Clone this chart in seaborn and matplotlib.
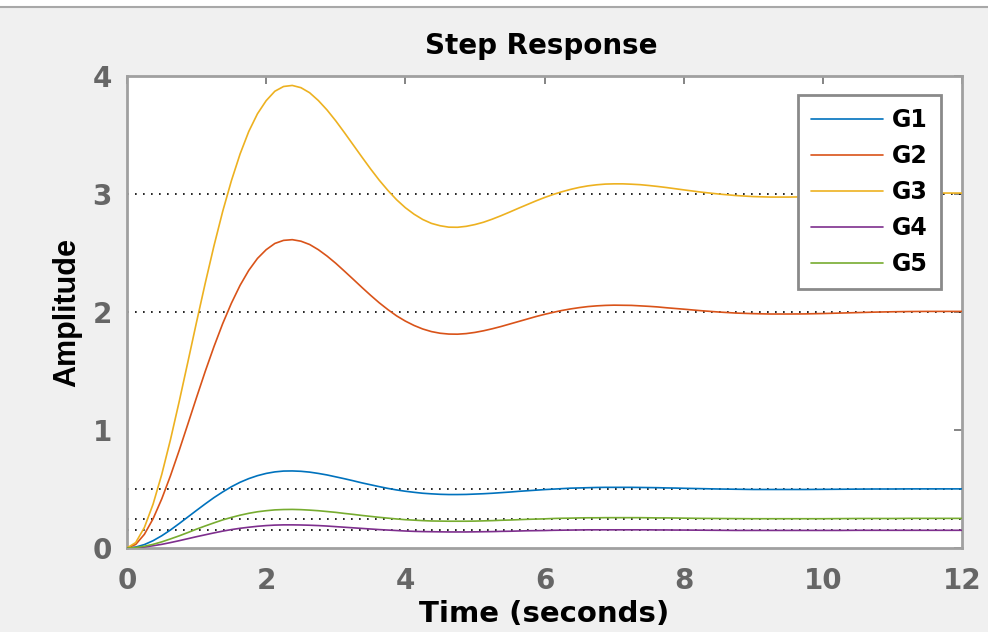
import numpy as np
import pandas as pd
import matplotlib
matplotlib.use("Agg")
import matplotlib.pyplot as plt
import seaborn as sns
from matplotlib.lines import Line2D

# ---- data ----
time = np.concatenate([np.arange(0, 8, 0.125), np.arange(8, 12.01, 0.25)])
G1 = [0, 0.008, 0.029, 0.062, 0.104, 0.153, 0.207, 0.263,
      0.319, 0.374, 0.427, 0.475, 0.519, 0.557, 0.588, 0.613,
      0.632, 0.645, 0.652, 0.653, 0.650, 0.643, 0.632, 0.619,
      0.603, 0.587, 0.570, 0.552, 0.536, 0.520, 0.505, 0.492,
      0.481, 0.472, 0.464, 0.459, 0.455, 0.453, 0.453, 0.454,
      0.457, 0.460, 0.464, 0.469, 0.474, 0.480, 0.485, 0.490,
      0.495, 0.499, 0.503, 0.507, 0.509, 0.511, 0.513, 0.514,
      0.514, 0.514, 0.514, 0.513, 0.512, 0.511, 0.509, 0.508,
      0.506, 0.503, 0.500, 0.498, 0.496, 0.496, 0.496, 0.496, 0.497,
      0.498, 0.499, 0.500, 0.500, 0.501, 0.501, 0.501, 0.501]
G2 = [0, 0.030, 0.116, 0.248, 0.417, 0.613, 0.827, 1.051,
      1.277, 1.498, 1.707, 1.901, 2.074, 2.226, 2.353, 2.454,
      2.528, 2.581, 2.607, 2.613, 2.600, 2.572, 2.528, 2.474,
      2.413, 2.346, 2.278, 2.209, 2.142, 2.078, 2.020, 1.967,
      1.923, 1.886, 1.856, 1.834, 1.820, 1.813, 1.812, 1.817,
      1.827, 1.841, 1.858, 1.877, 1.898, 1.919, 1.940, 1.961,
      1.980, 1.997, 2.013, 2.026, 2.037, 2.046, 2.052, 2.056,
      2.058, 2.057, 2.056, 2.052, 2.048, 2.043, 2.036, 2.030,
      2.024, 2.011, 2.000, 1.991, 1.986, 1.983, 1.983, 1.984, 1.987,
      1.991, 1.995, 1.999, 2.002, 2.004, 2.005, 2.005, 2.005]
G3 = [0, 0.046, 0.174, 0.372, 0.625, 0.919, 1.241, 1.577,
      1.916, 2.246, 2.561, 2.852, 3.112, 3.339, 3.530, 3.680,
      3.791, 3.871, 3.911, 3.920, 3.901, 3.858, 3.792, 3.712,
      3.620, 3.520, 3.417, 3.314, 3.213, 3.117, 3.030, 2.951,
      2.884, 2.829, 2.784, 2.751, 2.731, 2.719, 2.718, 2.726,
      2.741, 2.761, 2.787, 2.816, 2.847, 2.879, 2.910, 2.941,
      2.970, 2.996, 3.019, 3.039, 3.056, 3.069, 3.078, 3.084,
      3.086, 3.086, 3.083, 3.079, 3.072, 3.064, 3.055, 3.045,
      3.035, 3.016, 3.000, 2.987, 2.978, 2.974, 2.974, 2.976, 2.981,
      2.987, 2.993, 2.998, 3.003, 3.006, 3.008, 3.008, 3.008]
G4 = [0, 0.002, 0.009, 0.019, 0.031, 0.046, 0.062, 0.079,
      0.096, 0.112, 0.128, 0.143, 0.156, 0.167, 0.176, 0.184,
      0.190, 0.194, 0.196, 0.196, 0.195, 0.193, 0.190, 0.186,
      0.181, 0.176, 0.171, 0.166, 0.161, 0.156, 0.152, 0.148,
      0.144, 0.141, 0.139, 0.138, 0.137, 0.136, 0.136, 0.136,
      0.137, 0.138, 0.139, 0.141, 0.142, 0.144, 0.146, 0.147,
      0.148, 0.150, 0.151, 0.152, 0.153, 0.154, 0.154, 0.154,
      0.154, 0.154, 0.154, 0.154, 0.154, 0.153, 0.153, 0.152,
      0.152, 0.151, 0.150, 0.149, 0.149, 0.149, 0.149, 0.149, 0.149,
      0.149, 0.150, 0.150, 0.150, 0.150, 0.150, 0.150, 0.150]
G5 = [0, 0.004, 0.015, 0.031, 0.052, 0.077, 0.103, 0.131,
      0.160, 0.187, 0.213, 0.238, 0.259, 0.278, 0.294, 0.307,
      0.316, 0.323, 0.326, 0.327, 0.325, 0.321, 0.316, 0.309,
      0.302, 0.293, 0.285, 0.276, 0.268, 0.260, 0.253, 0.246,
      0.240, 0.236, 0.232, 0.229, 0.228, 0.227, 0.227, 0.227,
      0.228, 0.230, 0.232, 0.235, 0.237, 0.240, 0.243, 0.245,
      0.247, 0.250, 0.252, 0.253, 0.255, 0.256, 0.256, 0.257,
      0.257, 0.257, 0.257, 0.257, 0.256, 0.255, 0.255, 0.254,
      0.253, 0.251, 0.250, 0.249, 0.248, 0.248, 0.248, 0.248, 0.248,
      0.249, 0.250, 0.250, 0.250, 0.251, 0.251, 0.251, 0.251]
series_names = ["G1", "G2", "G3", "G4", "G5"]
final_values = [0.5, 2.0, 3.0, 0.15, 0.25]
x_ticks = [0, 2, 4, 6, 8, 10, 12]
y_ticks = [0, 1, 2, 3, 4]

colors = ["#0072BD", "#D95319", "#EDB120", "#7E2F8E", "#77AC30"]

df = pd.concat([pd.DataFrame({"Time": time, "Amplitude": v, "System": n})
                for n, v in zip(series_names, [G1, G2, G3, G4, G5])], ignore_index=True)

sns.set_theme(style="white")
plt.rcParams["font.family"] = ["DejaVu Sans"]
plt.rcParams["font.weight"] = "bold"

fig = plt.figure(figsize=(9.88, 6.32), dpi=100, facecolor="#f0f0f0")
ax = fig.add_axes([127/988, 1-548/632, (962-127)/988, (548-76)/632])
ax.set_facecolor("white")

# steady-state dotted lines
for fv in final_values:
    ax.plot([0, 12], [fv, fv], color="black", linestyle=(0, (1, 3.8)), lw=1.2, zorder=1)

sns.lineplot(data=df, x="Time", y="Amplitude", hue="System", palette=colors,
             hue_order=series_names, lw=1.2, ax=ax, legend=False, zorder=3)

ax.set_xlim(0, 12)
ax.set_ylim(0, 4)
ax.set_xticks(x_ticks)
ax.set_yticks(y_ticks)
ax.set_xticklabels([str(t) for t in x_ticks])
ax.set_yticklabels([str(t) for t in y_ticks])
ax.tick_params(direction="in", length=6, width=1.2, color="#707070",
               top=True, right=True, labelsize=20, labelcolor="#666666")
ax.tick_params(axis="x", pad=14)
ax.tick_params(axis="y", pad=11)
for lab in ax.get_xticklabels() + ax.get_yticklabels():
    lab.set_fontweight("bold")
for sp in ax.spines.values():
    sp.set_color("#a0a0a0")
    sp.set_linewidth(2)

ax.set_xlabel("Time (seconds)", fontsize=21, fontweight="bold", color="black")
ax.set_ylabel("Amplitude", fontsize=22, fontweight="bold", color="black",
              family=["Liberation Sans", "DejaVu Sans"])
ax.xaxis.set_label_coords(0.5, -0.111)
ax.yaxis.set_label_coords(-0.054, 0.498)

fig.text(541.5/988, 1-46/632, "Step Response", ha="center", va="center",
         fontsize=20, fontweight="bold", color="black")

handles = [Line2D([0], [0], color=c, lw=1.2) for c in colors]
leg = ax.legend(handles, series_names, loc="upper right",
                bbox_to_anchor=((941-127)/835, (548-95)/472),
                borderaxespad=0, handlelength=3.05,
                labelspacing=0.51, handletextpad=0.4, borderpad=0.55,
                fancybox=False, frameon=True, prop={"weight": "bold", "size": 17})
leg.get_frame().set_edgecolor("#8a8a8a")
leg.get_frame().set_linewidth(2)
leg.get_frame().set_facecolor("white")
leg.get_frame().set_alpha(1)
for t in leg.get_texts():
    t.set_color("black")

# top white strip with gray line, like the screenshot
fig.patches.append(plt.Rectangle((0, 1-6/632), 1, 6/632, transform=fig.transFigure,
                                 facecolor="white", edgecolor="none", zorder=0))
fig.lines.append(Line2D([0, 1], [1-7/632, 1-7/632], transform=fig.transFigure,
                        color="#a8a8a8", lw=1.5))

fig.savefig("out.png", dpi=100, facecolor=fig.get_facecolor())
